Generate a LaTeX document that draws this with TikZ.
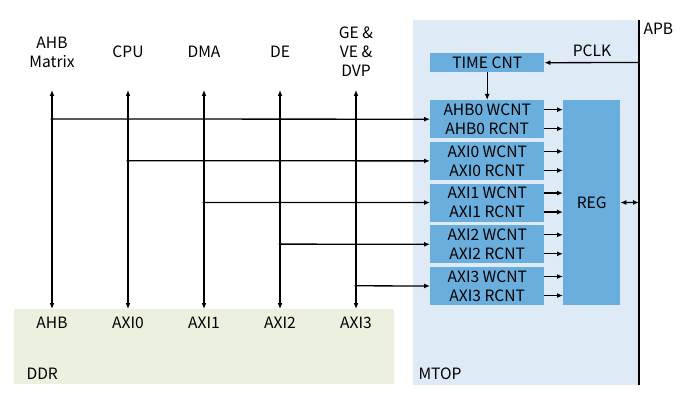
\documentclass[tikz,border=0pt]{standalone}
\usepackage{fontspec}
\setmainfont{Noto Sans CJK SC}
\usetikzlibrary{arrows.meta, positioning}
\definecolor{mtopbg}{RGB}{222,234,246}
\definecolor{ddrbg}{RGB}{235,241,222}
\definecolor{cntblue}{RGB}{106,174,221}

\begin{document}
\begin{tikzpicture}[x=1pt, y=-1pt, font=\fontsize{15.6}{19}\selectfont,
    cnt/.style={fill=cntblue, minimum width=114pt, minimum height=38pt, inner sep=0pt, align=center, anchor=north west},
    link/.style={line width=1.3pt, -{Latex[length=6pt,width=5pt]}},
    biline/.style={line width=1.3pt, {Latex[length=6pt,width=5pt]}-{Latex[length=6pt,width=5pt]}}]
    \useasboundingbox (0,0) rectangle (688,409);

    % Backgrounds
    \fill[mtopbg] (413,20) rectangle (639,385);
    \fill[ddrbg] (14,309) rectangle (394,384);
    \node[anchor=west] (ddr) at (23,374) {DDR};
    \node[anchor=west] (mtop) at (415,374) {MTOP};

    % APB bus
    \coordinate (apbtop) at (639,20);
    \coordinate (apbbot) at (639,385);
    \draw[line width=2.6pt] (apbtop) -- (apbbot);
    \node[anchor=west] (apb) at (640,29) {APB};

    % Counters and register
    \node[cnt, minimum height=19pt] (time) at (430,53) {TIME CNT};
    \foreach \n/\lbl [count=\i from 0] in {ahb/AHB0, axi0/AXI0, axi1/AXI1, axi2/AXI2, axi3/AXI3}
        \node[cnt] (\n) at (430,{100+41.7*\i}) {\lbl\ WCNT\\\lbl\ RCNT};
    \node[cnt, minimum width=57pt, minimum height=204.7pt, anchor=north west] (reg) at (563,100) {REG};

    \coordinate (pclk) at (639,62.5);
    \node (pclklbl) at (592,51) {PCLK};
    \draw[link] (pclk) -- (time.east);
    \draw[link] (time.south) -- (ahb.north);
    \coordinate (regapb) at (639,202.4);
    \draw[biline] (reg.east) -- (regapb);

    \foreach \n in {ahb, axi0, axi1, axi2, axi3} {
        \path ([yshift=9.5pt]\n.east) coordinate (\n-w) ([yshift=-9.5pt]\n.east) coordinate (\n-r);
        \draw[link] (\n-w) -- (\n-w -| reg.west);
        \draw[link] (\n-r) -- (\n-r -| reg.west);
    }

    % Masters and DDR ports
    \foreach \m/\p/\lbl/\n [count=\i from 0] in {mahb/AHB/{AHB\\Matrix}/ahb, mcpu/AXI0/CPU/axi0, mdma/AXI1/DMA/axi1, mde/AXI2/DE/axi2, mge/AXI3/{GE \&\\VE \&\\DVP}/axi3} {
        \node[align=center] (\m) at ({52+76*\i},52) {\lbl};
        \node (p\i) at ({52+76*\i},323) {\p};
        \coordinate (\m-up) at ({52+76*\i},90);
        \coordinate (\m-dn) at ({52+76*\i},309);
        \draw[biline] (\m-up) -- (\m-dn);
        \coordinate (\m-tap) at ({52+76*\i},{119+41.7*\i});
        \fill (\m-tap) circle (1.6pt);
        \draw[link] (\m-tap) -- (\n.west);
    }
\end{tikzpicture}
\end{document}
